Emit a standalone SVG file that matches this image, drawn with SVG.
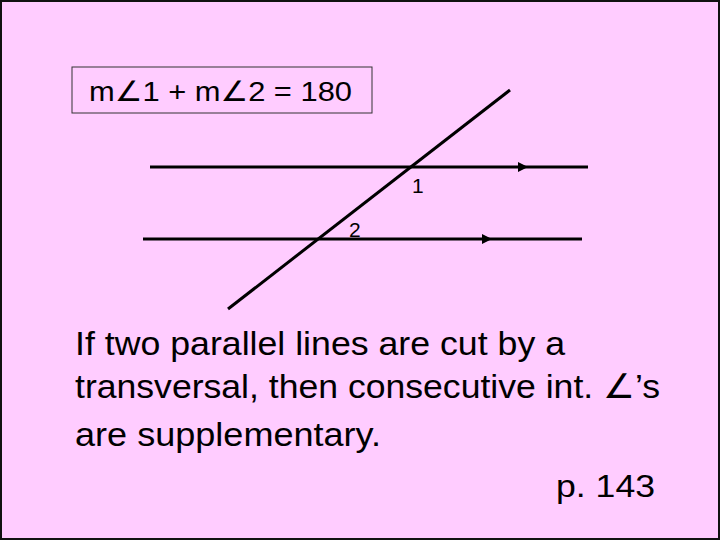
<svg xmlns="http://www.w3.org/2000/svg" width="720" height="540" viewBox="0 0 720 540">
<style>
.t{font-family:"Liberation Sans",Arial,"DejaVu Sans",sans-serif;fill:#000}
.ln{stroke:#000;stroke-width:3;fill:none}
</style>
<rect x="0" y="0" width="720" height="540" fill="#FFCCFF"/>
<rect x="1" y="1" width="718" height="538" fill="none" stroke="#111" stroke-width="2"/>
<g id="formula">
<rect x="72" y="67" width="300" height="46" fill="#FFCCFF" stroke="#333" stroke-width="1"/>
<text class="t" x="89" y="101" font-size="28" textLength="263" lengthAdjust="spacingAndGlyphs">m∠1 + m∠2 = 180</text>
</g>
<g id="connectors">
<line class="ln" x1="150" y1="167" x2="588" y2="167"/>
<polygon points="518,162 528,167 518,172" fill="#000"/>
<line class="ln" x1="143" y1="239" x2="582" y2="239"/>
<polygon points="482,234 492,239 482,244" fill="#000"/>
<line class="ln" x1="228" y1="309" x2="510" y2="90"/>
</g>
<g id="labels">
<text class="t" x="412" y="193" font-size="21">1</text>
<text class="t" x="349" y="237" font-size="21">2</text>
</g>
<g id="statement">
<text class="t" x="75" y="355" font-size="34" textLength="490" lengthAdjust="spacingAndGlyphs">If two parallel lines are cut by a</text>
<text class="t" x="75" y="398" font-size="34" textLength="585" lengthAdjust="spacingAndGlyphs">transversal, then consecutive int. ∠’s</text>
<text class="t" x="75" y="446" font-size="34" textLength="306" lengthAdjust="spacingAndGlyphs">are supplementary.</text>
<text class="t" x="556" y="497" font-size="31" textLength="99" lengthAdjust="spacingAndGlyphs">p. 143</text>
</g>
</svg>
